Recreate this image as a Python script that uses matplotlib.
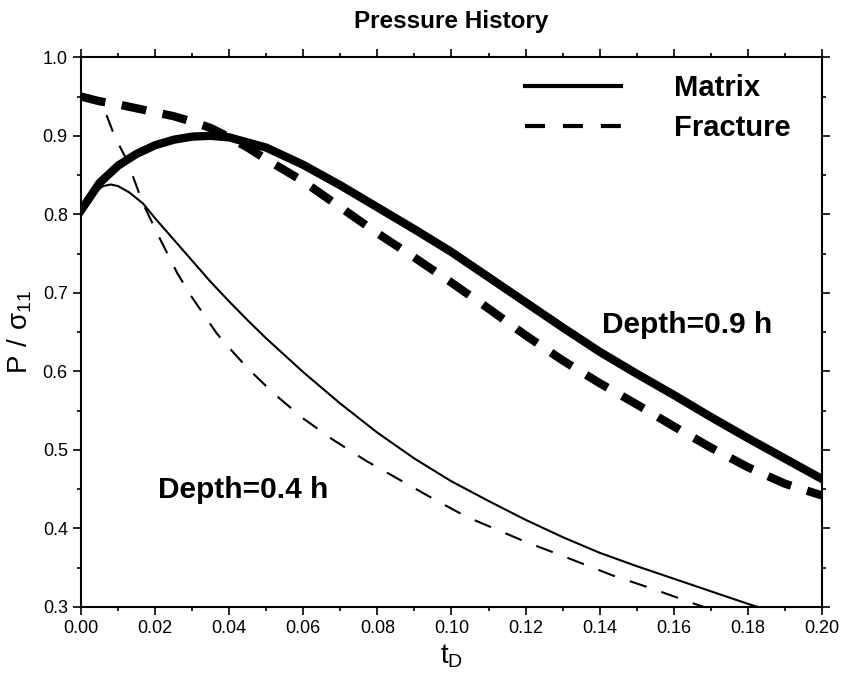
# Pressure history: matrix vs fracture pressure at two depths

import matplotlib
matplotlib.use('Agg')
import matplotlib.pyplot as plt
from matplotlib.lines import Line2D
from matplotlib.ticker import MultipleLocator

plt.rcParams['font.family'] = ['Liberation Sans', 'DejaVu Sans']

# Depth = 0.9 h, matrix (thick solid)
t_m09 = [0.0, 0.005, 0.01, 0.015, 0.02, 0.025, 0.03, 0.035, 0.04, 0.05, 0.06,
         0.07, 0.08, 0.09, 0.10, 0.11, 0.12, 0.13, 0.14, 0.15, 0.16, 0.17,
         0.18, 0.19, 0.20]
p_m09 = [0.805, 0.840, 0.862, 0.877, 0.888, 0.895, 0.899, 0.900, 0.898, 0.885,
         0.863, 0.837, 0.809, 0.781, 0.752, 0.720, 0.688, 0.656, 0.625, 0.597,
         0.570, 0.542, 0.515, 0.489, 0.463]

# Depth = 0.9 h, fracture (thick dashed)
t_f09 = [0.0, 0.005, 0.01, 0.015, 0.02, 0.025, 0.03, 0.035, 0.04, 0.045, 0.05,
         0.06, 0.07, 0.08, 0.09, 0.10, 0.11, 0.12, 0.13, 0.14, 0.15, 0.16,
         0.17, 0.18, 0.19, 0.20]
p_f09 = [0.950, 0.944, 0.940, 0.935, 0.930, 0.925, 0.918, 0.910, 0.898, 0.885,
         0.870, 0.842, 0.809, 0.776, 0.745, 0.713, 0.680, 0.646, 0.614, 0.585,
         0.558, 0.530, 0.503, 0.478, 0.457, 0.442]

# Depth = 0.4 h, matrix (thin solid)
t_m04 = [0.0, 0.003, 0.006, 0.008, 0.01, 0.013, 0.0167, 0.02, 0.025, 0.03,
         0.035, 0.04, 0.045, 0.05, 0.06, 0.07, 0.08, 0.09, 0.10, 0.11, 0.12,
         0.13, 0.14, 0.15, 0.16, 0.17, 0.18, 0.186]
p_m04 = [0.805, 0.826, 0.836, 0.838, 0.836, 0.828, 0.814, 0.795, 0.768, 0.741,
         0.714, 0.689, 0.665, 0.642, 0.599, 0.559, 0.522, 0.489, 0.460, 0.435,
         0.411, 0.389, 0.369, 0.352, 0.336, 0.320, 0.304, 0.295]

# Depth = 0.4 h, fracture (thin dashed)
t_f04 = [0.0, 0.003, 0.005, 0.007, 0.0092, 0.0124, 0.0167, 0.0213, 0.026, 0.03,
         0.0367, 0.04, 0.045, 0.052, 0.06, 0.068, 0.077, 0.086, 0.095, 0.104,
         0.113, 0.12, 0.13, 0.1436, 0.155, 0.165, 0.170]
p_f04 = [0.950, 0.947, 0.940, 0.925, 0.898, 0.869, 0.814, 0.769, 0.725, 0.694,
         0.648, 0.630, 0.604, 0.572, 0.540, 0.513, 0.486, 0.462, 0.438, 0.415,
         0.397, 0.383, 0.365, 0.340, 0.322, 0.305, 0.297]

fig = plt.figure(figsize=(8.42, 6.82), dpi=100)
ax = fig.add_axes([0.0962, 0.110, 0.880, 0.806])

ax.plot(t_m09, p_m09, color='black', lw=6)
ax.plot(t_f09, p_f09, color='black', lw=6, dashes=(3.0, 2.0))
ax.plot(t_m04, p_m04, color='black', lw=1.5)
ax.plot(t_f04, p_f04, color='black', lw=1.5, dashes=(8.5, 7.5))

ax.set_xlim(0, 0.20)
ax.set_ylim(0.3, 1.0)
ax.xaxis.set_major_locator(MultipleLocator(0.02))
ax.xaxis.set_minor_locator(MultipleLocator(0.01))
ax.yaxis.set_major_locator(MultipleLocator(0.1))
ax.yaxis.set_minor_locator(MultipleLocator(0.05))
ax.xaxis.set_major_formatter(plt.FuncFormatter(lambda v, p: f'{v:.2f}'))
ax.yaxis.set_major_formatter(plt.FuncFormatter(lambda v, p: f'{v:.1f}'))
ax.tick_params(which='both', direction='out', top=True, right=True,
               labelsize=13, width=1.2)
ax.tick_params(which='major', length=6)
ax.tick_params(which='minor', length=3)
for s in ax.spines.values():
    s.set_linewidth(1.5)

ax.set_title('Pressure History', fontsize=17.5, fontweight='bold', pad=21)
ax.set_xlabel(r'$\mathregular{t_D}$', fontsize=20, labelpad=4)
ax.set_ylabel(r'$\mathregular{P\ /\ \sigma_{11}}$', fontsize=20, labelpad=6)

ax.text(0.1636, 0.649, 'Depth=0.9 h', fontsize=21.5, fontweight='bold',
        ha='center', va='baseline')
ax.text(0.0438, 0.449, 'Depth=0.4 h', fontsize=21.5, fontweight='bold',
        ha='center', va='center')

handles = [Line2D([], [], color='black', lw=3),
           Line2D([], [], color='black', lw=3, dashes=(4.8, 4.3))]
leg = ax.legend(handles, ['Matrix', 'Fracture'], loc='upper left',
                bbox_to_anchor=(0.599, 0.969), frameon=False,
                borderpad=0, borderaxespad=0, handlelength=3.3,
                handletextpad=1.8, labelspacing=0.4,
                prop={'size': 21, 'weight': 'bold'})

fig.savefig('out.png', dpi=100)
